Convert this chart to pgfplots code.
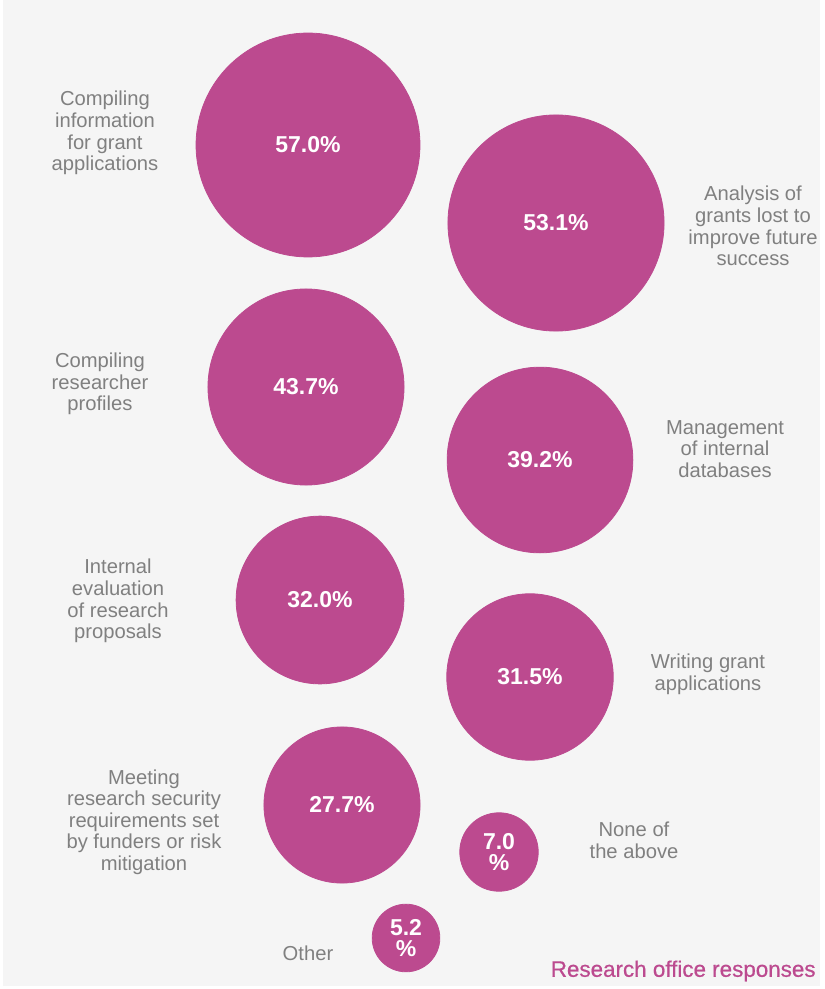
\documentclass[border=0pt]{standalone}
\usepackage{pgfplots}
\pgfplotsset{compat=1.18}
\usepackage{pgfplotstable}
\usepackage{fontspec}
\setmainfont{Liberation Sans}
\newfontface\medface{Liberation Sans}[FakeBold=0.6]

\definecolor{bub}{HTML}{BC4A8F}
\definecolor{lab}{HTML}{808080}
\definecolor{bg}{HTML}{F5F5F5}

% bubble centres (layout units) and shares in percent
\pgfplotstableread{
x   y   v
308 145 57.0
556 223 53.1
306 387 43.7
540 460 39.2
320 600 32.0
530 677 31.5
342 805 27.7
}\bigdata
\pgfplotstableread{
x   y   v
499 852 7.0
406 938 5.2
}\smalldata

\newcommand{\labfont}{\fontsize{10.1}{10.8}\selectfont}
\newcommand{\valfont}{\fontsize{11.5}{11.5}\selectfont\bfseries}

% bubble area proportional to the share
\pgfplotsset{
  bubble/.style={
    scatter, only marks, mark=*, point meta=explicit,
    visualization depends on={7.415*sqrt(\thisrow{v}) \as \rad},
    scatter/@pre marker code/.code={%
      \begin{scope}[mark size=\rad pt, fill=bub, draw=bub]},
    scatter/@post marker code/.code={\end{scope}},
  },
  valuelabel/.style={
    only marks, mark=none, point meta=explicit,
    every node near coord/.style={anchor=center, text=white, align=center, font=\valfont},
  },
}

\begin{document}
\begin{tikzpicture}
\begin{axis}[
  width=412pt, height=494.5pt, scale only axis,
  xmin=0, xmax=824, ymin=0, ymax=989, y dir=reverse,
  axis lines=none, clip=false,
  /pgf/number format/assume math mode=true,
]
\fill[white] (axis cs:0,0) rectangle (axis cs:824,989);
\fill[bg] (axis cs:3,0) rectangle (axis cs:820,986);

\addplot[bubble] table[x=x, y=y, meta=v] {\bigdata};
\addplot[bubble] table[x=x, y=y, meta=v] {\smalldata};

\addplot[valuelabel,
  nodes near coords={\pgfmathprintnumber[fixed,fixed zerofill,precision=1]{\pgfplotspointmeta}\%},
] table[x=x, y=y, meta=v] {\bigdata};
\addplot[valuelabel,
  nodes near coords={\pgfmathprintnumber[fixed,fixed zerofill,precision=1]{\pgfplotspointmeta}\\[-1pt]\%},
] table[x=x, y=y, meta=v] {\smalldata};

\begin{scope}[every node/.style={text=lab, align=center, font=\labfont}]
\node at (axis cs:105,133) {Compiling\\information\\for grant\\applications};
\node at (axis cs:753,226) {Analysis of\\grants lost to\\improve future\\success};
\node at (axis cs:100,384) {Compiling\\researcher\\profiles};
\node at (axis cs:725,449) {Management\\of internal\\databases};
\node at (axis cs:118,601) {Internal\\evaluation\\of research\\proposals};
\node at (axis cs:708,674) {Writing grant\\applications};
\node at (axis cs:144,822) {Meeting\\research security\\requirements set\\by funders or risk\\mitigation};
\node at (axis cs:634,840) {None of\\the above};
\node at (axis cs:308,953) {Other};
\end{scope}
\node[anchor=east, inner sep=0pt, text=bub, font=\fontsize{11.2}{11.2}\selectfont\medface] at (axis cs:816,971) {Research office responses};
\end{axis}
\end{tikzpicture}
\end{document}
